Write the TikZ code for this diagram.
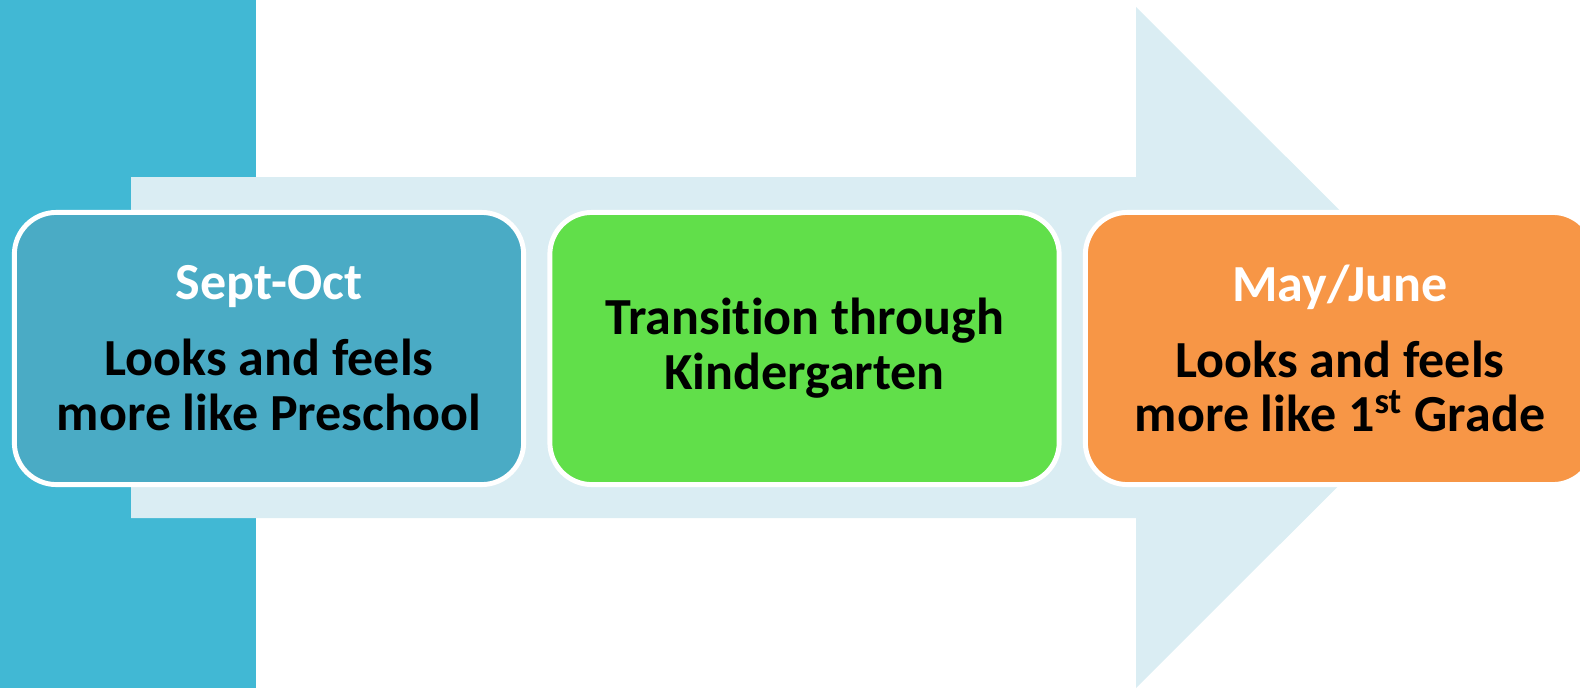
\documentclass[tikz,border=0pt]{standalone}
\usepackage{fontspec}
\setmainfont{Carlito}[Ligatures=NoCommon]
\definecolor{barTeal}{HTML}{41B8D4}
\definecolor{arrowPale}{HTML}{DAEDF3}
\definecolor{stageTeal}{HTML}{4AABC5}
\definecolor{stageGreen}{HTML}{61DF4A}
\definecolor{stageOrange}{HTML}{F79646}

\begin{document}
\begin{tikzpicture}
[x=0.01cm,y=-0.01cm,
  stageBox/.style={shape=rectangle,rounded corners=0.42cm,draw=white,line width=1.4pt,
    minimum width=5.09cm,minimum height=2.72cm,align=center,
    font=\fontsize{14.8}{15.6}\selectfont\bfseries},%
  whiteHead/.style={color=white}]
\useasboundingbox (0,0) rectangle (1580,688);
\clip (0,0) rectangle (1580,688);
%% side bar and big arrow
\fill[barTeal] (0,0) rectangle (256,688);
\fill[arrowPale] (131,177) -- (1136,177) -- (1136,7) -- (1477,347.5)
  -- (1136,688) -- (1136,518) -- (131,518) -- cycle;
%% the three stages
\node (sept) at (269,348.5) [stageBox,fill=stageTeal]
  {\textcolor{white}{Sept-Oct}\\[6pt]Looks and feels\\more like Preschool};
\node (trans) at (804.5,348.5) [stageBox,fill=stageGreen]
  {Transition through\\Kindergarten};
\node (may) at (1340,348.5) [stageBox,fill=stageOrange]
  {\textcolor{white}{May/June}\\[6pt]Looks and feels\\more like 1\textsuperscript{st} Grade};
\end{tikzpicture}
\end{document}
